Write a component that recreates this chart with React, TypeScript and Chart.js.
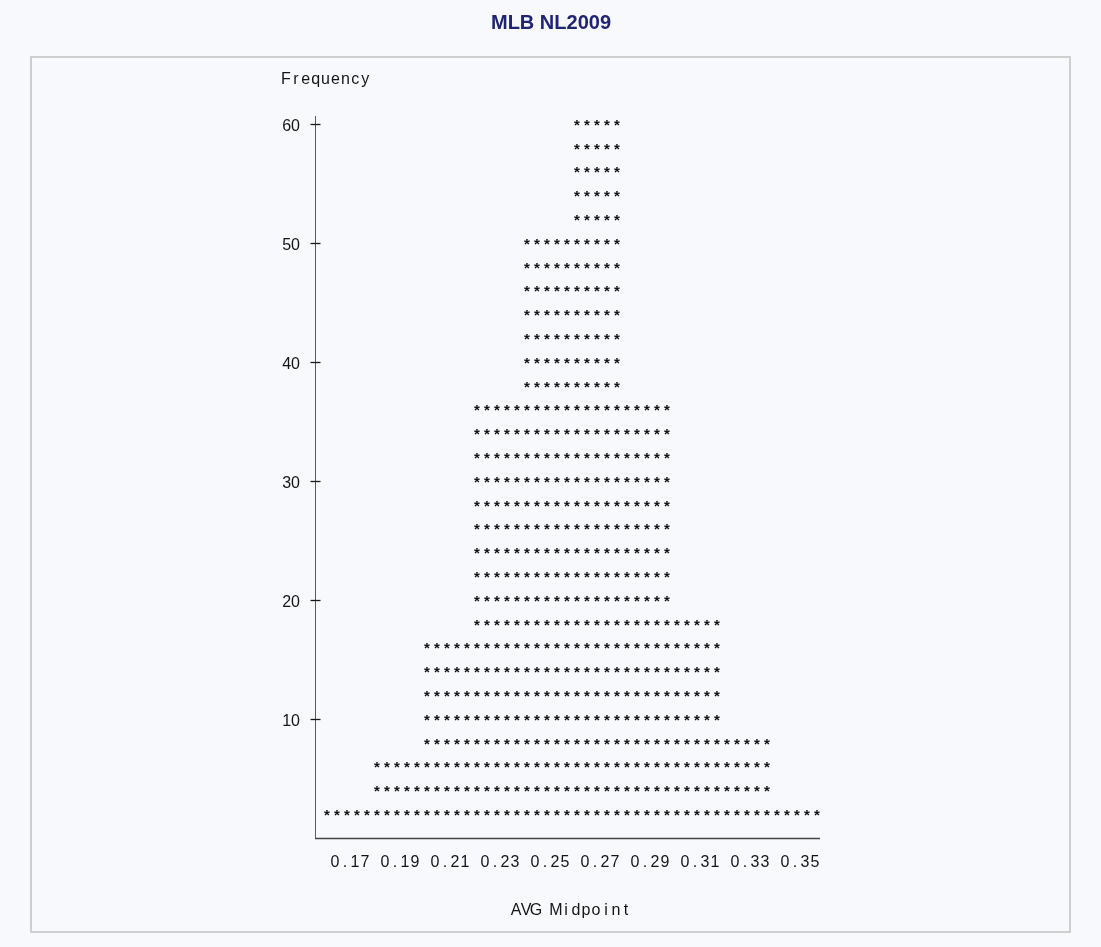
import React, { useEffect, useRef } from 'react';
import { Chart, registerables } from 'chart.js';

Chart.register(...registerables);

// ---- data ----
const TITLE = 'MLB NL2009';
const Y_LABEL = 'Frequency';
const X_LABEL = 'AVG Midpoint';
const midpoints = ['0.17', '0.19', '0.21', '0.23', '0.25', '0.27', '0.29', '0.31', '0.33', '0.35'];
const frequencies = [2, 6, 16, 36, 50, 60, 36, 18, 8, 2];
const yTickValues = [10, 20, 30, 40, 50, 60];
const SYMBOL = '*';
const SYMBOLS_PER_BAR = 5;
const ROW_STEP = 2;

// ---- style ----
const BG = '#f8f9fc';
const TEXT = '#151515';
const FONT = '"Liberation Sans", Arial, sans-serif';

function drawSpaced(ctx: CanvasRenderingContext2D, text: string, xStart: number, y: number, pitch: number) {
  ctx.textAlign = 'center';
  for (let i = 0; i < text.length; i++) {
    ctx.fillText(text[i], xStart + i * pitch + pitch / 2, y);
  }
}

const listingPlugin = {
  id: 'listingPlugin',
  beforeDraw(chart: any) {
    const ctx: CanvasRenderingContext2D = chart.ctx;
    ctx.save();
    ctx.fillStyle = BG;
    ctx.fillRect(0, 0, chart.width, chart.height);
    ctx.strokeStyle = '#cfcfcf';
    ctx.lineWidth = 2;
    ctx.strokeRect(31, 57, 1039, 875);
    ctx.fillStyle = '#1f2475';
    ctx.font = `bold 20px ${FONT}`;
    ctx.textAlign = 'center';
    ctx.textBaseline = 'alphabetic';
    ctx.fillText(TITLE, 551, 29);
    ctx.restore();
  },
  afterDatasetsDraw(chart: any) {
    const ctx: CanvasRenderingContext2D = chart.ctx;
    const yScale = chart.scales.y;
    const area = chart.chartArea;
    const meta = chart.getDatasetMeta(0);
    ctx.save();
    ctx.textBaseline = 'alphabetic';

    // asterisk bars
    ctx.fillStyle = '#111111';
    ctx.font = `bold 15px ${FONT}`;
    ctx.textAlign = 'center';
    meta.data.forEach((bar: any, i: number) => {
      const props = bar.getProps(['x', 'width'], true);
      const left = props.x - props.width / 2;
      const cell = props.width / SYMBOLS_PER_BAR;
      for (let k = ROW_STEP; k <= frequencies[i]; k += ROW_STEP) {
        const py = yScale.getPixelForValue(k);
        for (let j = 0; j < SYMBOLS_PER_BAR; j++) {
          ctx.fillText(SYMBOL, left + (j + 0.5) * cell, py + 5.8);
        }
      }
    });

    // axes
    const axisX = area.left - 6.5;
    const zeroY = yScale.getPixelForValue(0);
    ctx.strokeStyle = '#5a5a5a';
    ctx.lineWidth = 1;
    ctx.beginPath();
    ctx.moveTo(axisX, area.top - 2);
    ctx.lineTo(axisX, zeroY);
    ctx.stroke();
    ctx.strokeStyle = '#444444';
    ctx.lineWidth = 1.3;
    ctx.beginPath();
    ctx.moveTo(axisX - 0.5, zeroY + 0.5);
    ctx.lineTo(area.right - 2, zeroY + 0.5);
    ctx.stroke();

    // y ticks
    ctx.fillStyle = TEXT;
    ctx.strokeStyle = '#1a1a1a';
    ctx.lineWidth = 1.3;
    ctx.font = `16px ${FONT}`;
    yTickValues.forEach((v) => {
      const py = Math.round(yScale.getPixelForValue(v)) + 0.5;
      ctx.beginPath();
      ctx.moveTo(axisX - 5, py);
      ctx.lineTo(axisX + 5, py);
      ctx.stroke();
      ctx.textAlign = 'right';
      ctx.fillText(String(v), 300, py + 6.5);
    });

    // x labels
    meta.data.forEach((bar: any, i: number) => {
      const label = midpoints[i];
      const pitch = 10;
      const cx = bar.x + 3;
      drawSpaced(ctx, label, cx - (label.length * pitch) / 2, 867, pitch);
    });

    // axis titles
    drawSpaced(ctx, Y_LABEL, 281, 84, 9.9);
    drawSpaced(ctx, X_LABEL, 511, 915, 10);
    ctx.restore();
  },
};

export default function App() {
  const ref = useRef<HTMLCanvasElement>(null);
  useEffect(() => {
    const chart = new Chart(ref.current as HTMLCanvasElement, {
      type: 'bar',
      data: {
        labels: midpoints,
        datasets: [
          {
            data: frequencies,
            backgroundColor: 'rgba(0,0,0,0)',
            borderWidth: 0,
            barPercentage: 1,
            categoryPercentage: 1,
          },
        ],
      },
      options: {
        responsive: false,
        animation: false,
        layout: { padding: { left: 322, right: 279, top: 118, bottom: 109 } },
        plugins: { legend: { display: false }, title: { display: false }, tooltip: { enabled: false } },
        scales: {
          x: { type: 'category', display: false, offset: true },
          y: { type: 'linear', display: false, min: 0, max: 60.5 },
        },
      },
      plugins: [listingPlugin],
    });
    return () => chart.destroy();
  }, []);
  return (
    <div style={{ position: 'fixed', left: 0, top: 0, width: 1101, height: 947, background: BG }}>
      <canvas ref={ref} width={1101} height={947} style={{ display: 'block', width: 1101, height: 947 }} />
    </div>
  );
}
